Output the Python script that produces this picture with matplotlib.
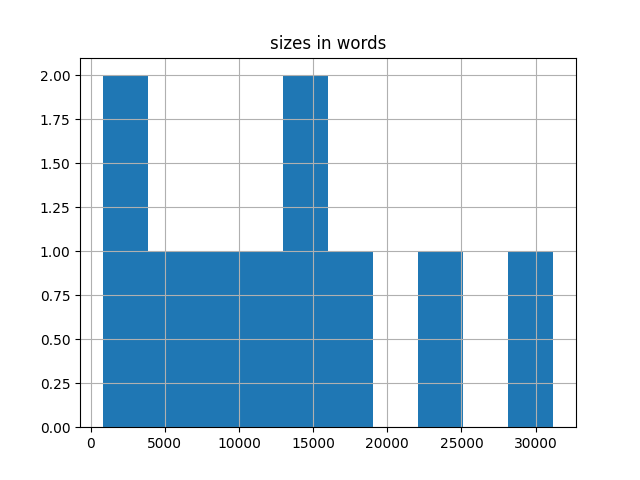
import pandas as pd
import matplotlib
matplotlib.use('Agg')
import matplotlib.pyplot as plt

# word counts per document
sizes_in_words = [810, 2500, 5000, 8000, 11000, 14000, 15000, 17500, 23000, 31200]

df = pd.DataFrame({'sizes in words': sizes_in_words})

fig, ax = plt.subplots(figsize=(6.4, 4.8), dpi=100)
df.hist(column='sizes in words', bins=10, ax=ax)
fig.savefig('out.png')
